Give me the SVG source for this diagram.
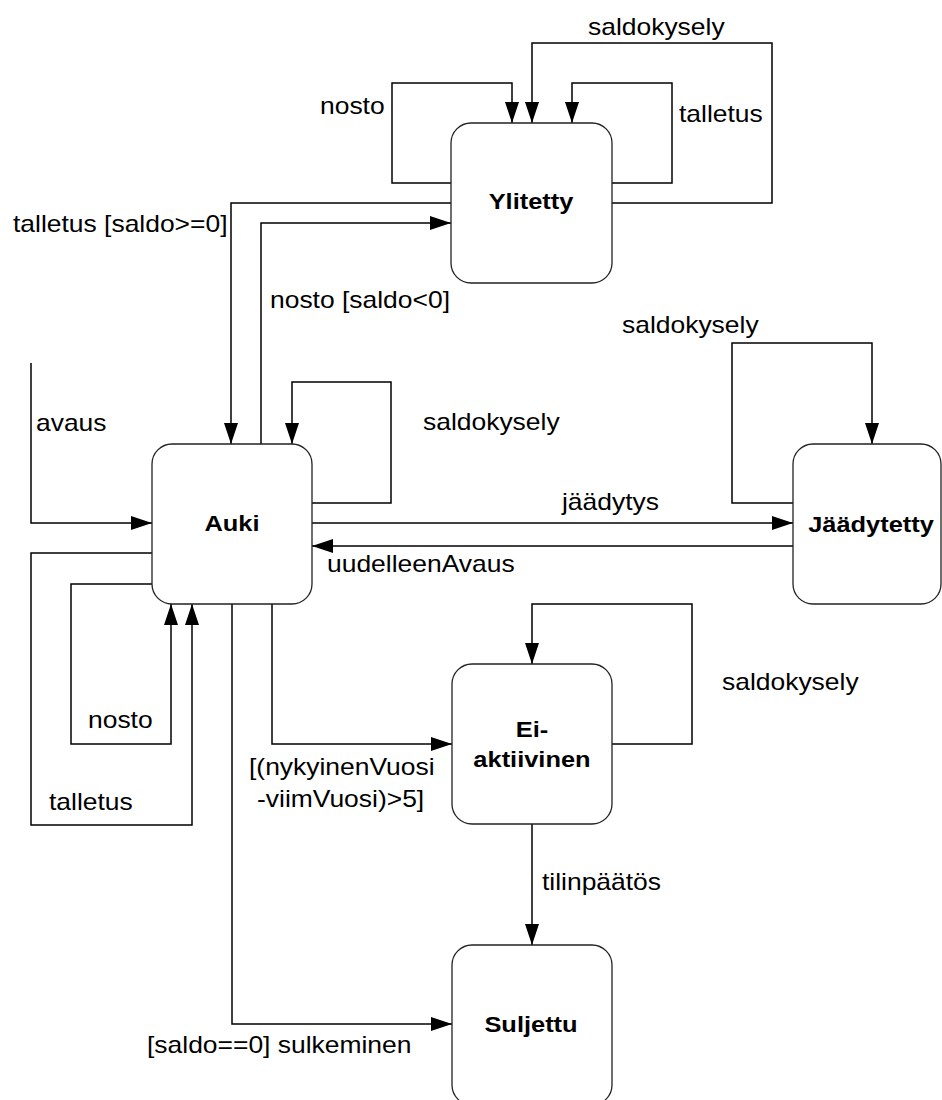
<svg xmlns="http://www.w3.org/2000/svg" width="942" height="1100" viewBox="0 0 942 1100">
  <style>
    .state { fill: #ffffff; stroke: #222222; stroke-width: 1.3; }
    .name { font-family: "Liberation Sans", Arial, sans-serif; font-weight: bold; font-size: 22.5px; fill: #000; text-anchor: middle; }
    .lbl { font-family: "Liberation Sans", Arial, sans-serif; font-size: 23px; fill: #000; }
    .edge { fill: none; stroke: #000; stroke-width: 1.5; }
    .arrow { marker-end: url(#head); }
  </style>
  <defs>
    <marker id="head" markerUnits="userSpaceOnUse" markerWidth="23" markerHeight="15" refX="21" refY="7" orient="auto">
      <path d="M0,0 L21,7 L0,14 z" fill="#000"/>
    </marker>
  </defs>
  <rect width="942" height="1100" fill="#ffffff"/>

  <!-- transitions -->
  <g id="connectors">
    <!-- Ylitetty self transitions -->
    <path class="edge arrow" d="M451,183 H392 V83 H512 V123"/>
    <path class="edge arrow" d="M612,183 H672 V83 H572 V123"/>
    <path class="edge arrow" d="M612,203 H772 V43 H532 V123"/>
    <!-- Ylitetty <-> Auki -->
    <path class="edge arrow" d="M451,203 H231 V444"/>
    <path class="edge arrow" d="M261,444 V223 H451"/>
    <!-- Auki self: saldokysely -->
    <path class="edge arrow" d="M312,503 H391 V382 H292 V444"/>
    <!-- initial: avaus -->
    <path class="edge arrow" d="M31,363 V523 H152"/>
    <!-- Auki self: talletus, nosto -->
    <path class="edge arrow" d="M152,553 H31 V825 H192 V604"/>
    <path class="edge arrow" d="M152,584 H71 V744 H171 V604"/>
    <!-- Auki <-> Jäädytetty -->
    <path class="edge arrow" d="M312,523 H793"/>
    <path class="edge arrow" d="M793,546 H312"/>
    <path class="edge arrow" d="M793,503 H732 V343 H872 V444"/>
    <!-- Auki -> Ei-aktiivinen, self loop, -> Suljettu -->
    <path class="edge arrow" d="M272,604 V744 H452"/>
    <path class="edge arrow" d="M612,744 H692 V604 H532 V664"/>
    <path class="edge arrow" d="M532,824 V945"/>
    <path class="edge arrow" d="M232,604 V1024 H452"/>
  </g>

  <!-- transition labels -->
  <g id="labels" class="lbl">
    <text transform="translate(588 35) scale(1.15 1)">saldokysely</text>
    <text transform="translate(320 114) scale(1.15 1)">nosto</text>
    <text transform="translate(679 122) scale(1.15 1)">talletus</text>
    <text transform="translate(13 232) scale(1.15 1)">talletus [saldo&gt;=0]</text>
    <text transform="translate(270 308) scale(1.15 1)">nosto [saldo&lt;0]</text>
    <text transform="translate(622 333) scale(1.15 1)">saldokysely</text>
    <text transform="translate(36 431) scale(1.15 1)">avaus</text>
    <text transform="translate(423 430) scale(1.15 1)">saldokysely</text>
    <text transform="translate(562 510) scale(1.15 1)">jäädytys</text>
    <text transform="translate(327 572) scale(1.15 1)">uudelleenAvaus</text>
    <text transform="translate(722 690) scale(1.15 1)">saldokysely</text>
    <text transform="translate(88 728) scale(1.15 1)">nosto</text>
    <text transform="translate(249 775) scale(1.15 1)">[(nykyinenVuosi</text>
    <text transform="translate(257 807) scale(1.15 1)">-viimVuosi)&gt;5]</text>
    <text transform="translate(49 810) scale(1.15 1)">talletus</text>
    <text transform="translate(542 890) scale(1.15 1)">tilinpäätös</text>
    <text transform="translate(147 1053) scale(1.15 1)">[saldo==0] sulkeminen</text>
  </g>

  <g id="ylitetty">
    <rect class="state" x="451" y="123" width="161" height="160" rx="20"/>
    <text class="name" transform="translate(531 209) scale(1.13 1)">Ylitetty</text>
  </g>
  <g id="auki">
    <rect class="state" x="152" y="444" width="160" height="160" rx="20"/>
    <text class="name" transform="translate(232 531) scale(1.13 1)">Auki</text>
  </g>
  <g id="jaadytetty">
    <rect class="state" x="793" y="444" width="148" height="160" rx="20"/>
    <text class="name" transform="translate(871 532) scale(1.13 1)">Jäädytetty</text>
  </g>
  <g id="ei-aktiivinen">
    <rect class="state" x="452" y="664" width="160" height="160" rx="20"/>
    <text class="name" transform="translate(532 737) scale(1.13 1)">Ei-</text>
    <text class="name" transform="translate(532 767) scale(1.13 1)">aktiivinen</text>
  </g>
  <g id="suljettu">
    <rect class="state" x="452" y="945" width="160" height="160" rx="20"/>
    <text class="name" transform="translate(531 1032) scale(1.13 1)">Suljettu</text>
  </g>
</svg>
